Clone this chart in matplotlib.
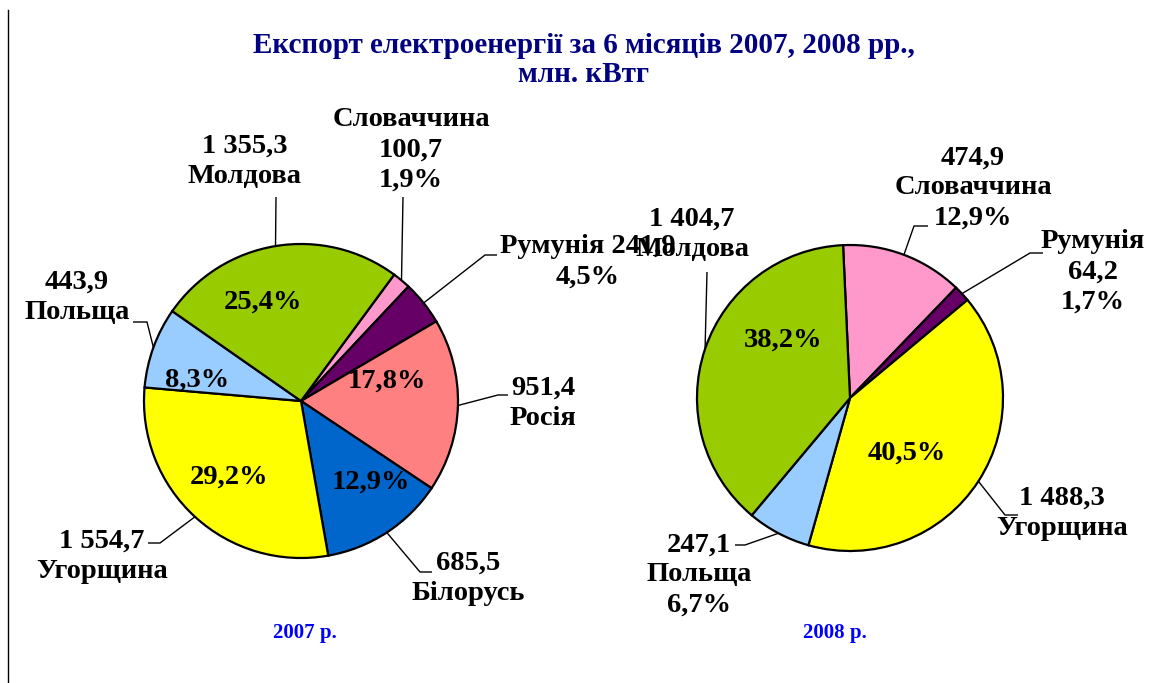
import matplotlib.pyplot as plt
import numpy as np

W, H = 1154, 683

# 2007
names_07 = ['Словаччина', 'Румунія', 'Росія', 'Білорусь', 'Угорщина', 'Польща', 'Молдова']
vals_07 = [100.7, 241.9, 951.4, 685.5, 1554.7, 443.9, 1355.3]
pcts_07 = ['1,9%', '4,5%', '17,8%', '12,9%', '29,2%', '8,3%', '25,4%']
vals_txt_07 = ['100,7', '241,9', '951,4', '685,5', '1 554,7', '443,9', '1 355,3']
colors_07 = ['#FF99CC', '#660066', '#FF8080', '#0066CC', '#FFFF00', '#99CCFF', '#99CC00']

# 2008
names_08 = ['Словаччина', 'Румунія', 'Угорщина', 'Польща', 'Молдова']
vals_08 = [474.9, 64.2, 1488.3, 247.1, 1404.7]
pcts_08 = ['12,9%', '1,7%', '40,5%', '6,7%', '38,2%']
vals_txt_08 = ['474,9', '64,2', '1 488,3', '247,1', '1 404,7']
colors_08 = ['#FF99CC', '#660066', '#FFFF00', '#99CCFF', '#99CC00']

font = 'Liberation Serif'
fs = 20.5

fig = plt.figure(figsize=(W / 100, H / 100), dpi=100)
ax = fig.add_axes([0, 0, 1, 1])


def Y(y):
    return H - y


def draw_pie(vals, colors, cx, cy, r, start):
    wedges, _ = ax.pie(vals, colors=colors, startangle=start, counterclock=False,
                       center=(cx, Y(cy)), radius=r,
                       wedgeprops=dict(edgecolor='black', linewidth=1.6))
    return wedges


def leader(w, cx, cy, r, pts):
    a = np.deg2rad((w.theta1 + w.theta2) / 2)
    xs = [cx + r * np.cos(a)] + [p[0] for p in pts]
    ys = [Y(cy) + r * np.sin(a)] + [Y(p[1]) for p in pts]
    ax.plot(xs, ys, color='black', lw=1, solid_capstyle='butt')


def label(x, y, s, **kw):
    ax.text(x, Y(y), s, ha='center', va='center', fontsize=fs, fontweight='bold',
            family=font, linespacing=1.28, **kw)


# ---- 2007 ----
c1 = (301, 401, 157)
w07 = draw_pie(vals_07, colors_07, c1[0], c1[1], c1[2], 53.6)

# inside percentages
label(387, 381, pcts_07[2])
label(371, 482, pcts_07[3])
label(229, 477, pcts_07[4])
label(197, 380, pcts_07[5])
label(263, 302, pcts_07[6])

# outside labels
label(411, 150, names_07[0] + '\n' + vals_txt_07[0] + '\n' + pcts_07[0])
leader(w07[0], *c1, [(403, 197)])
label(588, 262, names_07[1] + ' ' + vals_txt_07[1] + '\n' + pcts_07[1])
leader(w07[1], *c1, [(485, 255), (497, 255)])
label(543, 403, vals_txt_07[2] + '\n' + names_07[2])
leader(w07[2], *c1, [(498, 395), (508, 395)])
label(468, 578, vals_txt_07[3] + '\n' + names_07[3])
leader(w07[3], *c1, [(420, 572), (432, 572)])
label(102, 556, vals_txt_07[4] + '\n' + names_07[4])
leader(w07[4], *c1, [(160, 543), (148, 543)])
label(77, 297, vals_txt_07[5] + '\n' + names_07[5])
leader(w07[5], *c1, [(147, 322), (133, 322)])
label(245, 161, vals_txt_07[6] + '\n' + names_07[6])
leader(w07[6], *c1, [(276, 197)])

# ---- 2008 ----
c2 = (850, 398, 153)
w08 = draw_pie(vals_08, colors_08, c2[0], c2[1], c2[2], 92.6)

label(907, 453, pcts_08[2])
label(783, 340, pcts_08[4])

label(973, 188, vals_txt_08[0] + '\n' + names_08[0] + '\n' + pcts_08[0])
leader(w08[0], *c2, [(914, 226), (928, 226)])
label(1093, 272, names_08[1] + '\n' + vals_txt_08[1] + '\n' + pcts_08[1])
leader(w08[1], *c2, [(1030, 253), (1043, 253)])
label(1062, 513, vals_txt_08[2] + '\n' + names_08[2])
leader(w08[2], *c2, [(1005, 515), (1018, 515)])
label(699, 575, vals_txt_08[3] + '\n' + names_08[3] + '\n' + pcts_08[3])
leader(w08[3], *c2, [(745, 545), (735, 545)])
label(692, 234, vals_txt_08[4] + '\n' + names_08[4])
leader(w08[4], *c2, [(707, 272)])

# title and captions
ax.text(584, Y(60), 'Експорт електроенергії за 6 місяців 2007, 2008 рр.,\nмлн. кВтг',
        ha='center', va='center', fontsize=21, fontweight='bold', family=font,
        color='#000080', linespacing=1.1)
ax.text(305, Y(633), '2007 р.', ha='center', va='center', fontsize=15,
        fontweight='bold', family=font, color='#0000FF')
ax.text(835, Y(633), '2008 р.', ha='center', va='center', fontsize=15,
        fontweight='bold', family=font, color='#0000FF')

ax.plot([8, 8], [Y(10), Y(683)], color='black', lw=1)

ax.set_xlim(0, W)
ax.set_ylim(0, H)
ax.set_aspect('equal')
ax.axis('off')

plt.savefig('out.png', dpi=100)
